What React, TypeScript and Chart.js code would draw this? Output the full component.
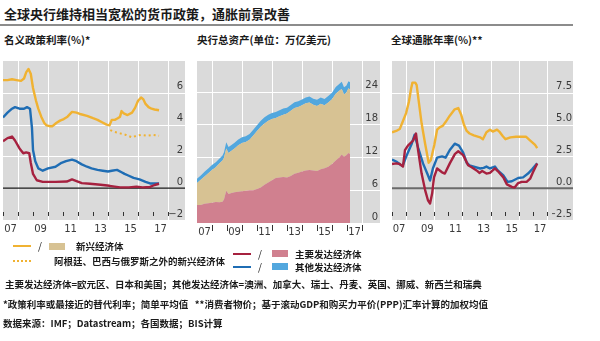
import React, { useEffect, useRef } from 'react';
import { Chart, registerables } from 'chart.js';

Chart.register(...registerables);

// ---------- shared axis labels ----------
const xLabelYears = [2007.5, 2009.5, 2011.5, 2013.5, 2015.5, 2017.5];
const xTickLabels = ['07', '09', '11', '13', '15', '17'];
const evenYears = [2008, 2010, 2012, 2014, 2016, 2018];
const allYears = [2007, 2008, 2009, 2010, 2011, 2012, 2013, 2014, 2015, 2016, 2017, 2018];
const yearsFrom2008 = [2008, 2009, 2010, 2011, 2012, 2013, 2014, 2015, 2016, 2017, 2018];

// ---------- panel 1: nominal policy rates (%) ----------
const p1Ticks = [-2, 0, 2, 4, 6];
const p1TickLabels = ['−2', '0', '2', '4', '6'];
const p1EmYears = [2007.0, 2007.3, 2007.6, 2007.9, 2008.2, 2008.4, 2008.55, 2008.7, 2008.85, 2009.0, 2009.2, 2009.35, 2009.55, 2009.75, 2009.9, 2010.1, 2010.3, 2010.55, 2010.8, 2011.05, 2011.3, 2011.6, 2011.9, 2012.2, 2012.6, 2013.0, 2013.3, 2013.6, 2013.9, 2014.1, 2014.25, 2014.45, 2014.65, 2014.8, 2014.9, 2015.05, 2015.3, 2015.6, 2015.8, 2016.0, 2016.2, 2016.35, 2016.5, 2016.7, 2016.9, 2017.1, 2017.4];
const p1EmValues = [6.8, 6.8, 6.85, 6.8, 6.75, 6.9, 7.3, 7.5, 7.2, 6.3, 5.5, 5.0, 4.5, 4.1, 3.95, 3.9, 3.9, 4.1, 4.25, 4.35, 4.5, 4.8, 4.75, 4.65, 4.55, 4.4, 4.3, 4.15, 4.0, 3.95, 4.3, 4.3, 4.4, 4.5, 4.85, 4.7, 4.6, 4.75, 5.05, 5.5, 5.7, 5.6, 5.3, 5.1, 5.0, 4.95, 4.9];
const p1EmExYears = [2014.15, 2014.4, 2014.8, 2015.2, 2015.6, 2015.9, 2016.2, 2016.6, 2017.0, 2017.4];
const p1EmExValues = [3.65, 3.55, 3.45, 3.35, 3.2, 3.3, 3.35, 3.3, 3.35, 3.3];
const p1OtherYears = [2007.0, 2007.3, 2007.6, 2007.8, 2008.1, 2008.4, 2008.6, 2008.8, 2008.93, 2009.0, 2009.15, 2009.35, 2009.65, 2010.0, 2010.5, 2010.9, 2011.2, 2011.6, 2011.9, 2012.25, 2012.6, 2012.9, 2013.3, 2013.65, 2014.0, 2014.25, 2014.6, 2014.9, 2015.1, 2015.35, 2015.7, 2016.1, 2016.5, 2016.8, 2017.1, 2017.4];
const p1OtherValues = [4.45, 4.75, 5.0, 5.1, 5.0, 5.0, 5.1, 5.0, 3.8, 2.4, 1.7, 1.25, 1.1, 1.25, 1.35, 1.6, 1.7, 1.8, 1.7, 1.5, 1.35, 1.25, 1.15, 1.1, 1.05, 1.1, 1.15, 1.0, 0.9, 0.8, 0.65, 0.55, 0.4, 0.3, 0.3, 0.3];
const p1MajorYears = [2007.0, 2007.3, 2007.6, 2007.8, 2008.1, 2008.35, 2008.55, 2008.75, 2008.85, 2009.0, 2009.25, 2009.65, 2010.5, 2011.25, 2011.6, 2011.9, 2012.25, 2012.8, 2013.5, 2014.1, 2014.8, 2015.4, 2015.9, 2016.3, 2016.8, 2017.1, 2017.4];
const p1MajorValues = [2.95, 3.15, 3.25, 3.0, 2.5, 2.2, 2.25, 2.2, 1.6, 0.9, 0.5, 0.4, 0.4, 0.42, 0.55, 0.45, 0.32, 0.28, 0.22, 0.15, 0.05, 0.05, 0.1, 0.05, 0.08, 0.2, 0.28];

// ---------- panel 2: central bank total assets ($trn) ----------
const p2Ticks = [0, 6, 12, 18, 24];
const p2TickLabels = ['0', '6', '12', '18', '24'];
const p2Years = [2007.0, 2007.25, 2007.5, 2007.75, 2008.0, 2008.25, 2008.5, 2008.7, 2008.8, 2008.95, 2009.1, 2009.3, 2009.5, 2009.75, 2010.0, 2010.25, 2010.5, 2010.75, 2011.0, 2011.25, 2011.5, 2011.75, 2012.0, 2012.25, 2012.5, 2012.75, 2013.0, 2013.25, 2013.5, 2013.75, 2014.0, 2014.25, 2014.5, 2014.75, 2015.0, 2015.25, 2015.5, 2015.75, 2016.0, 2016.25, 2016.5, 2016.65, 2016.8, 2016.95, 2017.1, 2017.2];
const p2Major = [3.3, 3.3, 3.5, 3.6, 3.7, 3.85, 3.8, 3.9, 4.3, 5.9, 5.3, 5.5, 5.6, 5.7, 5.8, 5.9, 6.0, 6.0, 6.2, 6.5, 7.0, 7.4, 7.8, 8.2, 8.3, 8.4, 8.3, 8.6, 9.0, 9.2, 9.4, 9.6, 9.7, 9.6, 9.5, 9.8, 10.0, 10.3, 10.8, 11.4, 12.0, 12.5, 12.1, 12.4, 12.8, 12.6];
const p2Emerging = [4.0, 4.6, 5.0, 5.5, 6.0, 6.35, 7.1, 7.5, 7.6, 7.7, 7.5, 7.7, 8.0, 8.5, 8.8, 8.9, 9.2, 10.0, 10.6, 11.1, 11.2, 11.3, 11.2, 11.0, 11.2, 11.4, 11.7, 11.9, 12.0, 12.0, 12.1, 12.3, 12.3, 12.0, 11.9, 12.0, 11.5, 11.7, 11.8, 12.2, 12.2, 12.0, 11.4, 11.4, 11.8, 11.8];
const p2Other = [0.8, 0.8, 0.85, 0.85, 0.9, 0.9, 0.9, 0.95, 1.05, 1.15, 1.1, 1.05, 1.05, 1.05, 1.05, 1.05, 1.05, 1.05, 1.05, 1.1, 1.1, 1.1, 1.1, 1.1, 1.1, 1.1, 1.05, 1.05, 1.05, 1.05, 1.05, 1.05, 1.1, 1.1, 1.1, 1.15, 1.15, 1.2, 1.2, 1.25, 1.25, 1.3, 1.3, 1.3, 1.3, 1.3];

// ---------- panel 3: global inflation (%) ----------
const p3Ticks = [-2.5, 0, 2.5, 5, 7.5];
const p3TickLabels = ['−2.5', '0.0', '2.5', '5.0', '7.5'];
const p3EmYears = [2007.0, 2007.3, 2007.55, 2007.75, 2008.0, 2008.2, 2008.35, 2008.45, 2008.65, 2008.75, 2008.9, 2009.1, 2009.35, 2009.6, 2009.75, 2010.0, 2010.2, 2010.4, 2010.6, 2010.8, 2011.1, 2011.45, 2011.7, 2011.9, 2012.1, 2012.3, 2012.5, 2012.8, 2013.25, 2013.45, 2013.7, 2013.95, 2014.15, 2014.45, 2014.65, 2014.85, 2015.05, 2015.4, 2015.8, 2016.1, 2016.5, 2016.75, 2016.95, 2017.15, 2017.3];
const p3EmValues = [4.4, 4.5, 4.65, 5.2, 5.9, 6.8, 7.8, 8.3, 8.3, 8.1, 6.8, 5.1, 3.5, 2.0, 2.2, 3.4, 4.6, 4.8, 4.9, 5.2, 5.7, 6.2, 6.3, 5.8, 5.0, 4.5, 4.3, 4.15, 4.0, 3.85, 4.4, 4.6, 4.45, 4.6, 4.4, 4.1, 3.85, 4.0, 4.05, 4.05, 4.05, 3.8, 3.6, 3.4, 3.15];
const p3OtherYears = [2007.0, 2007.3, 2007.6, 2007.75, 2008.05, 2008.4, 2008.6, 2008.85, 2009.2, 2009.5, 2009.7, 2009.9, 2010.2, 2010.55, 2010.8, 2011.1, 2011.45, 2011.75, 2012.05, 2012.3, 2012.5, 2012.8, 2013.25, 2013.5, 2013.7, 2013.95, 2014.3, 2014.5, 2014.9, 2015.2, 2015.5, 2015.95, 2016.3, 2016.65, 2016.95, 2017.3];
const p3OtherValues = [2.25, 2.1, 1.85, 1.75, 2.6, 3.5, 4.2, 3.2, 1.95, 1.15, 0.6, 1.55, 2.4, 2.5, 2.4, 3.0, 3.5, 3.35, 2.8, 2.0, 1.8, 1.7, 1.55, 1.6, 1.7, 1.55, 1.7, 1.4, 1.0, 0.5, 0.55, 0.8, 0.85, 1.15, 1.5, 1.95];
const p3MajorYears = [2007.0, 2007.3, 2007.55, 2007.78, 2007.92, 2008.13, 2008.5, 2008.7, 2008.85, 2009.1, 2009.35, 2009.55, 2009.7, 2009.85, 2009.98, 2010.2, 2010.55, 2010.75, 2011.1, 2011.47, 2011.7, 2012.05, 2012.4, 2012.65, 2013.0, 2013.2, 2013.4, 2013.7, 2013.95, 2014.3, 2014.5, 2014.9, 2015.15, 2015.5, 2015.7, 2015.95, 2016.2, 2016.55, 2016.8, 2017.0, 2017.3];
const p3MajorValues = [1.9, 1.95, 1.9, 1.7, 3.0, 3.35, 3.75, 4.3, 3.0, 1.15, -0.15, -0.95, -1.2, -0.4, 0.85, 1.55, 1.25, 1.15, 1.95, 2.7, 2.9, 2.6, 1.8, 1.65, 1.4, 1.2, 1.35, 1.15, 1.2, 1.55, 1.35, 0.85, 0.3, 0.1, 0.05, 0.4, 0.5, 0.5, 0.75, 1.25, 1.95];

// ---------- styles ----------
const ORANGE = '#F0B232';
const BLUE = '#1F6DB4';
const RED = '#A6213F';
const PINK = '#D0808F';
const TAN = '#D7C293';
const LIGHTBLUE = '#52A7DE';
const PANEL_BG = '#DADADA';
const TICK_COLOR = '#3a3a3a';
const TICK_FONT = { family: 'DejaVu Sans', size: 10 };
const CJK = '"Noto Sans CJK SC", "Noto Sans", sans-serif';

const pts = (xs: number[], ys: number[]) => xs.map((x, i) => ({ x, y: ys[i] }));

type EconCfg = {
  extraRight: number;
  vLines: number[];
  hLines: number[];
  zero?: { color: string; width: number };
  ticks: number[];
  tickMode: 'inside' | 'below';
};

function makeEcon(cfg: EconCfg) {
  return {
    id: 'econ',
    beforeDraw(chart: any) {
      const { ctx, chartArea: ca, scales } = chart;
      const x = scales.x;
      const y = scales.y;
      const right = y.right + cfg.extraRight;
      ctx.save();
      ctx.fillStyle = PANEL_BG;
      ctx.fillRect(ca.left, ca.top, right - ca.left, ca.bottom - ca.top);
      ctx.strokeStyle = '#ffffff';
      ctx.lineWidth = 1;
      for (const v of cfg.vLines) {
        const px = Math.round(x.getPixelForValue(v)) + 0.5;
        ctx.beginPath();
        ctx.moveTo(px, ca.top);
        ctx.lineTo(px, ca.bottom);
        ctx.stroke();
      }
      for (const v of cfg.hLines) {
        const py = Math.round(y.getPixelForValue(v)) + 0.5;
        ctx.beginPath();
        ctx.moveTo(ca.left, py);
        ctx.lineTo(right, py);
        ctx.stroke();
      }
      ctx.restore();
    },
    beforeDatasetsDraw(chart: any) {
      if (!cfg.zero) return;
      const { ctx, chartArea: ca, scales } = chart;
      const y = scales.y;
      const right = y.right + cfg.extraRight;
      const py = y.getPixelForValue(0);
      ctx.save();
      ctx.strokeStyle = cfg.zero.color;
      ctx.lineWidth = cfg.zero.width;
      ctx.beginPath();
      ctx.moveTo(ca.left, py);
      ctx.lineTo(right, py);
      ctx.stroke();
      ctx.restore();
    },
    afterDatasetsDraw(chart: any) {
      const { ctx, chartArea: ca, scales } = chart;
      const x = scales.x;
      ctx.save();
      ctx.strokeStyle = '#333333';
      ctx.lineWidth = 1;
      for (const v of cfg.ticks) {
        const px = Math.round(x.getPixelForValue(v)) + 0.5;
        ctx.beginPath();
        if (cfg.tickMode === 'inside') {
          ctx.moveTo(px, ca.bottom - 8);
          ctx.lineTo(px, ca.bottom - 4);
        } else {
          ctx.moveTo(px, ca.bottom + 2);
          ctx.lineTo(px, ca.bottom + 8);
        }
        ctx.stroke();
      }
      ctx.restore();
    },
  };
}

function xAxis(max: number) {
  return {
    type: 'linear',
    min: 2007,
    max,
    grid: { display: false, drawTicks: false },
    border: { display: false },
    ticks: {
      autoSkip: false,
      maxRotation: 0,
      padding: 3,
      color: TICK_COLOR,
      font: TICK_FONT,
      callback: (_v: number, i: number) => xTickLabels[i],
    },
    afterBuildTicks: (s: any) => {
      s.ticks = xLabelYears.map((value) => ({ value }));
    },
    afterFit: (s: any) => {
      s.height = 20;
    },
  };
}

function yAxis(min: number, max: number, ticks: number[], labels: string[], width: number, stacked = false) {
  return {
    position: 'right',
    min,
    max,
    stacked,
    grid: { display: false, drawTicks: false },
    border: { display: false },
    ticks: {
      crossAlign: 'far',
      labelOffset: -6,
      padding: 0,
      color: TICK_COLOR,
      font: TICK_FONT,
      callback: (_v: number, i: number) => labels[i],
    },
    afterBuildTicks: (s: any) => {
      s.ticks = ticks.map((value) => ({ value }));
    },
    afterFit: (s: any) => {
      s.width = width;
    },
  };
}

const baseOptions = (padding: any, scales: any) => ({
  animation: false,
  responsive: false,
  maintainAspectRatio: false,
  layout: { padding },
  plugins: { legend: { display: false }, tooltip: { enabled: false } },
  elements: { point: { radius: 0 }, line: { tension: 0 } },
  scales,
});

const lineDs = (data: any, color: string, extra: any = {}) => ({
  data,
  borderColor: color,
  borderWidth: 2.4,
  pointRadius: 0,
  fill: false,
  borderJoinStyle: 'round',
  ...extra,
});

export default function App() {
  const r1 = useRef<HTMLCanvasElement>(null);
  const r2 = useRef<HTMLCanvasElement>(null);
  const r3 = useRef<HTMLCanvasElement>(null);

  useEffect(() => {
    const c1 = new Chart(r1.current as HTMLCanvasElement, {
      type: 'line',
      data: {
        datasets: [
          lineDs(pts(p1MajorYears, p1MajorValues), RED),
          lineDs(pts(p1OtherYears, p1OtherValues), BLUE),
          lineDs(pts(p1EmYears, p1EmValues), ORANGE),
          lineDs(pts(p1EmExYears, p1EmExValues), ORANGE, { borderDash: [2, 3], borderWidth: 2 }),
        ],
      },
      options: baseOptions(
        { left: 3, top: 5, right: 7, bottom: 0 },
        { x: xAxis(2017.93), y: yAxis(-2, 8, p1Ticks, p1TickLabels, 16) }
      ) as any,
      plugins: [
        makeEcon({
          extraRight: 2,
          vLines: evenYears,
          hLines: [2, 4, 6],
          zero: { color: '#1a1a1a', width: 1.3 },
          ticks: allYears,
          tickMode: 'inside',
        }),
      ],
    } as any);

    const c2 = new Chart(r2.current as HTMLCanvasElement, {
      type: 'line',
      data: {
        datasets: [
          { data: pts(p2Years, p2Major), borderWidth: 0, borderColor: 'rgba(0,0,0,0)', backgroundColor: PINK, fill: 'origin', pointRadius: 0 },
          { data: pts(p2Years, p2Emerging), borderWidth: 0, borderColor: 'rgba(0,0,0,0)', backgroundColor: TAN, fill: '-1', pointRadius: 0 },
          { data: pts(p2Years, p2Other), borderWidth: 0, borderColor: 'rgba(0,0,0,0)', backgroundColor: LIGHTBLUE, fill: '-1', pointRadius: 0 },
        ],
      },
      options: baseOptions(
        { left: 5, top: 5, right: 4, bottom: 0 },
        { x: xAxis(2018.0), y: yAxis(0, 29.6, p2Ticks, p2TickLabels, 16, true) }
      ) as any,
      plugins: [
        makeEcon({
          extraRight: 2,
          vLines: evenYears,
          hLines: [6, 12, 18, 24],
          ticks: yearsFrom2008,
          tickMode: 'below',
        }),
      ],
    } as any);

    const c3 = new Chart(r3.current as HTMLCanvasElement, {
      type: 'line',
      data: {
        datasets: [
          lineDs(pts(p3MajorYears, p3MajorValues), RED),
          lineDs(pts(p3OtherYears, p3OtherValues), BLUE),
          lineDs(pts(p3EmYears, p3EmValues), ORANGE),
        ],
      },
      options: baseOptions(
        { left: 5, top: 5, right: 28, bottom: 0 },
        { x: xAxis(2018.35), y: yAxis(-2.5, 10, p3Ticks, p3TickLabels, 20) }
      ) as any,
      plugins: [
        makeEcon({
          extraRight: 1,
          vLines: evenYears,
          hLines: [2.5, 5, 7.5],
          zero: { color: '#6a6a6a', width: 2 },
          ticks: allYears,
          tickMode: 'inside',
        }),
      ],
    } as any);

    return () => {
      c1.destroy();
      c2.destroy();
      c3.destroy();
    };
  }, []);

  const txt = (left: number, center: number, size: number, text: string, extra: any = {}) => (
    <div
      style={{
        position: 'absolute',
        left,
        top: center - Math.round(size * 0.65),
        fontSize: size,
        lineHeight: `${Math.round(size * 1.3)}px`,
        fontWeight: 700,
        fontFamily: CJK,
        color: '#1a1a1a',
        whiteSpace: 'nowrap',
        ...extra,
      }}
    >
      {text}
    </div>
  );

  const line = (left: number, top: number, color: string) => (
    <div style={{ position: 'absolute', left, top, width: 18, height: 2, background: color }} />
  );
  const box = (left: number, top: number, color: string) => (
    <div style={{ position: 'absolute', left, top, width: 16, height: 7, background: color }} />
  );

  return (
    <div style={{ position: 'absolute', left: 0, top: 0, width: 600, height: 341, background: '#ffffff', overflow: 'hidden' }}>
      {txt(4, 13, 13, '全球央行维持相当宽松的货币政策，通胀前景改善')}
      <div style={{ position: 'absolute', left: 0, top: 24, width: 573, height: 2, background: '#8c8c8c' }} />
      {txt(4, 40, 10.5, '名义政策利率(%)*')}
      {txt(197, 40, 10.5, '央行总资产(单位：万亿美元)')}
      {txt(391, 40, 10.5, '全球通胀年率(%)**')}

      <canvas ref={r1} width={190} height={185} style={{ position: 'absolute', left: 0, top: 55 }} />
      <canvas ref={r2} width={190} height={188} style={{ position: 'absolute', left: 192, top: 55 }} />
      <canvas ref={r3} width={213} height={185} style={{ position: 'absolute', left: 387, top: 55 }} />

      {line(13, 245, ORANGE)}
      {txt(38, 246, 10, '/', { fontWeight: 400 })}
      {box(49, 243, TAN)}
      {txt(76, 246, 9.5, '新兴经济体')}
      <div style={{ position: 'absolute', left: 13, top: 260, width: 18, height: 0, borderTop: `2px dotted ${ORANGE}` }} />
      {txt(54, 261, 9.5, '阿根廷、巴西与俄罗斯之外的新兴经济体')}

      {line(233, 253, RED)}
      {txt(258, 254, 10, '/', { fontWeight: 400 })}
      {box(272, 250, PINK)}
      {txt(295, 254, 9.5, '主要发达经济体')}
      {line(233, 266, BLUE)}
      {txt(258, 267, 10, '/', { fontWeight: 400 })}
      {box(272, 263, LIGHTBLUE)}
      {txt(295, 267, 9.5, '其他发达经济体')}

      {txt(5, 284, 9.5, '主要发达经济体=欧元区、日本和美国；其他发达经济体=澳洲、加拿大、瑞士、丹麦、英国、挪威、新西兰和瑞典')}
      {txt(3, 304, 9.5, '*政策利率或最接近的替代利率；简单平均值\u00a0\u00a0\u00a0**消费者物价；基于滚动GDP和购买力平价(PPP)汇率计算的加权均值')}
      {txt(3, 323, 9.5, '数据来源：IMF；Datastream；各国数据；BIS计算')}
    </div>
  );
}
